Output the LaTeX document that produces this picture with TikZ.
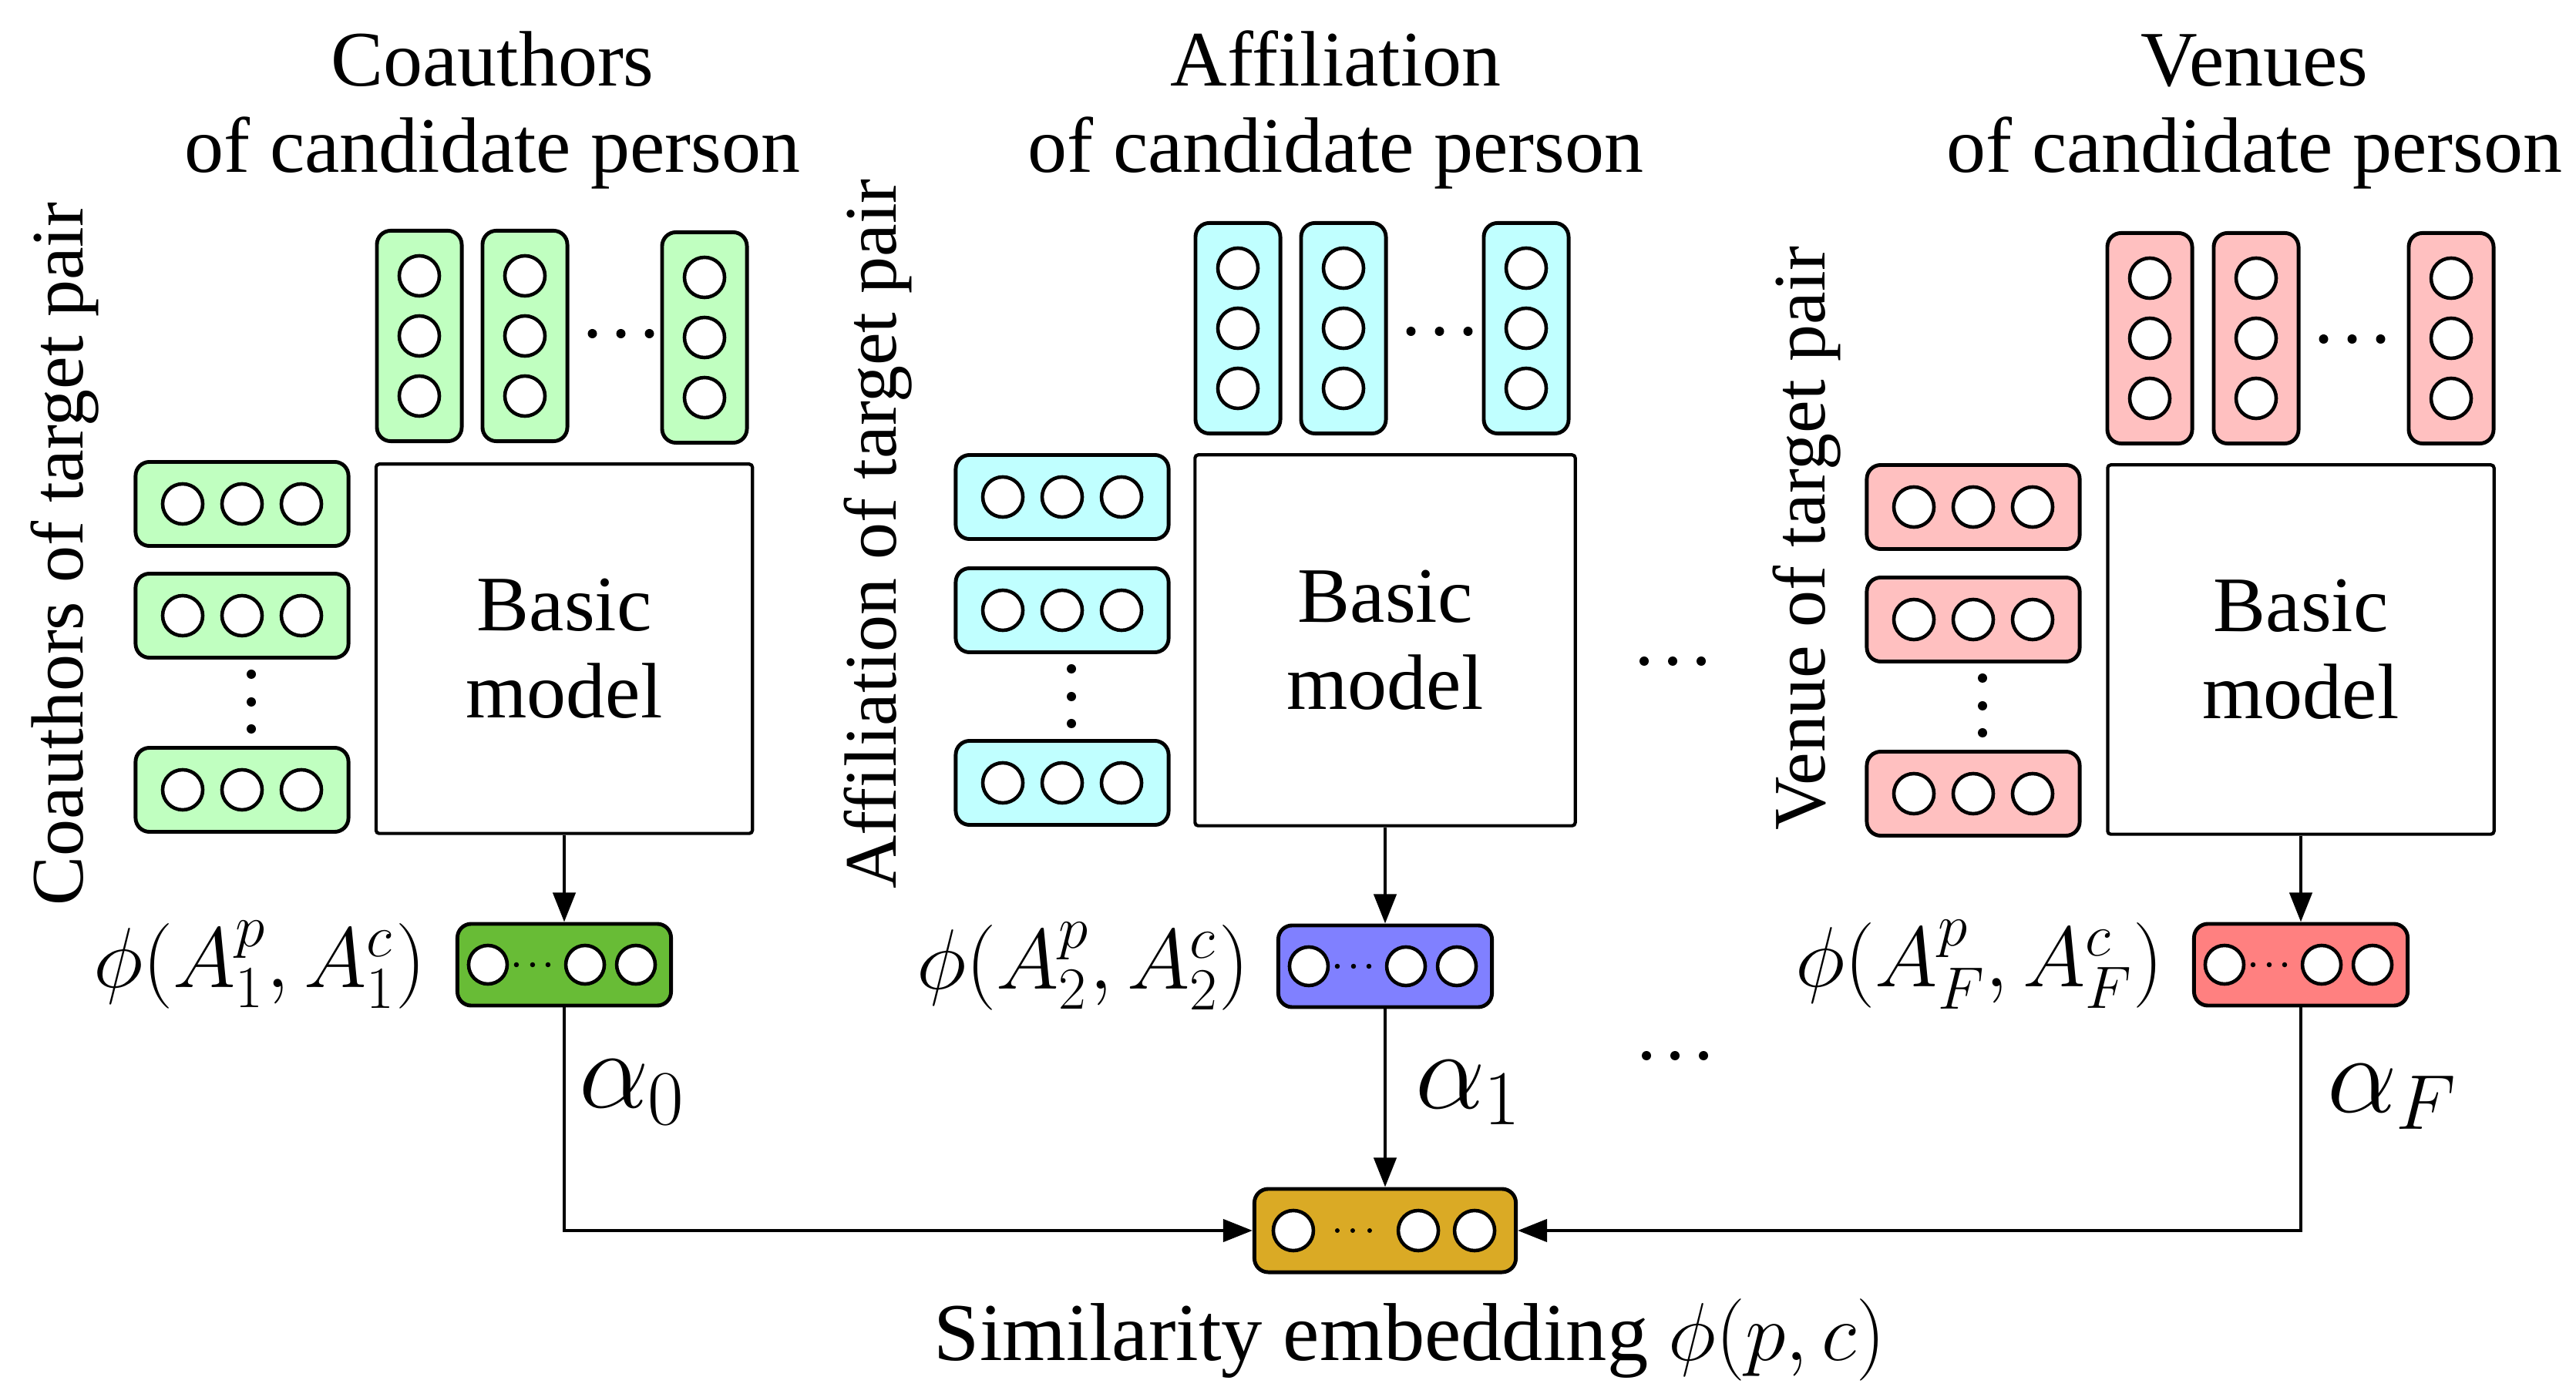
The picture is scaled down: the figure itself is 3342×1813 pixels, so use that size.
\RequirePackage{fix-cm}
\documentclass[tikz,border=0pt]{standalone}
\usepackage{amsmath}
\usepackage[no-math]{fontspec}
\setmainfont{Liberation Serif}
\newfontfamily\labelfont{Liberation Serif}
\usepackage{tikz}
\usetikzlibrary{positioning,calc,arrows.meta}

\definecolor{featgreen}{HTML}{C0FFC0}
\definecolor{featcyan}{HTML}{C0FFFF}
\definecolor{featpink}{HTML}{FFC0C0}
\definecolor{embgreen}{HTML}{68BC36}
\definecolor{embblue}{HTML}{8080FF}
\definecolor{embred}{HTML}{FF8080}
\definecolor{embgold}{HTML}{DAAA25}

\tikzset{
    vecbox/.style={draw,line width=1.4pt,rounded corners=0.18cm,inner sep=0pt},
    unit/.style={circle,draw,fill=white,line width=1.3pt,inner sep=0pt,minimum size=0.52cm},
    bead/.style={circle,fill,inner sep=0pt,minimum size=#1},
    lbl/.style={inner sep=0pt,font=\labelfont\fontsize{29}{32}\selectfont},
    side/.style={inner sep=0pt,rotate=90,anchor=base,font=\labelfont\fontsize{27.3}{30}\selectfont},
    model/.style={lbl,draw,line width=1.2pt,rounded corners=0.04cm,align=center},
    mlabel/.style={inner sep=0pt,font=\fontsize{31.5}{34}\selectfont},
    alabel/.style={inner sep=0pt,font=\fontsize{41}{45}\selectfont},
    arr/.style={line width=1.2pt,-{Triangle[length=0.38cm,width=0.29cm]}},
}

% column vector: name, x, y, colour
\newcommand{\colvec}[4]{%
    \node[vecbox,fill=#4,minimum width=1.1cm,minimum height=2.73cm] (#1) at (#2,#3) {};
    \foreach \dy in {-78,0,78}
        \node[unit] (#1u\dy) at ($(#1)+(0,\dy)$) {};
}
% row vector: name, x, y, colour
\newcommand{\rowvec}[4]{%
    \node[vecbox,fill=#4,minimum width=2.76cm,minimum height=1.09cm] (#1) at (#2,#3) {};
    \foreach \dx in {-77,0,77}
        \node[unit] (#1u\dx) at ($(#1)+(\dx,0)$) {};
}
% output of a basic model: name, x, y, colour
\newcommand{\embvec}[4]{%
    \node[vecbox,fill=#4,minimum width=2.77cm,minimum height=1.06cm] (#1) at (#2,#3) {};
    \node[unit,minimum size=0.5cm] (#1a) at ($(#1.west)+(42,0)$) {};
    \node[unit,minimum size=0.5cm] (#1b) at ($(#1.east)+(-114,0)$) {};
    \node[unit,minimum size=0.5cm] (#1c) at ($(#1.east)+(-48,0)$) {};
    \foreach \dx in {79,100,120}
        \node[bead=0.065cm] (#1d\dx) at ($(#1.west)+(\dx,0)$) {};
}

\begin{document}
\begin{tikzpicture}[x=0.01cm,y=-0.01cm]
    \useasboundingbox (0,0) rectangle (3342,1813);

    % coauthors
    \node[lbl,align=center,anchor=base] (tc) at (639,224) {Coauthors\\of candidate person};
    \node[side] (sc) at (107,719) {Coauthors of target pair};
    \colvec{ct1}{544}{436}{featgreen}
    \colvec{ct2}{681}{436}{featgreen}
    \colvec{ct3}{914}{438}{featgreen}
    \foreach \dx in {30,67,104}
        \node[bead=0.12cm] (ctd\dx) at ($(ct2.east)+(\dx,-3)$) {};
    \rowvec{cl1}{314}{654}{featgreen}
    \rowvec{cl2}{314}{799}{featgreen}
    \rowvec{cl3}{314}{1025}{featgreen}
    \foreach \dy in {19,55,90}
        \node[bead=0.12cm] (cld\dy) at ($(cl2.south)+(12,\dy)$) {};
    \node[model,minimum width=4.88cm,minimum height=4.79cm] (m1) at (732,842) {Basic\\model};
    \embvec{o1}{732}{1252}{embgreen}
    \node[mlabel,left=0.38cm of o1] (p1) {$\phi(A_1^p, A_1^c)$};

    % affiliation
    \node[lbl,align=center,anchor=base] (ta) at (1733,224) {Affiliation\\of candidate person};
    \node[side] (sa) at (1162,693) {Affiliation of target pair};
    \colvec{at1}{1606}{426}{featcyan}
    \colvec{at2}{1743}{426}{featcyan}
    \colvec{at3}{1980}{426}{featcyan}
    \foreach \dx in {30,67,104}
        \node[bead=0.12cm] (atd\dx) at ($(at2.east)+(\dx,4)$) {};
    \rowvec{al1}{1378}{645}{featcyan}
    \rowvec{al2}{1378}{792}{featcyan}
    \rowvec{al3}{1378}{1016}{featcyan}
    \foreach \dy in {19,55,90}
        \node[bead=0.12cm] (ald\dy) at ($(al2.south)+(12,\dy)$) {};
    \node[model,minimum width=4.93cm,minimum height=4.81cm] (m2) at (1797,831) {Basic\\model};
    \embvec{o2}{1797}{1254}{embblue}
    \node[mlabel,left=0.35cm of o2] (p2) {$\phi(A_2^p, A_2^c)$};

    % venues
    \node[lbl,align=center,anchor=base] (tv) at (2925,224) {Venues\\of candidate person};
    \node[side] (sv) at (2367,699) {Venue of target pair};
    \colvec{vt1}{2789}{439}{featpink}
    \colvec{vt2}{2927}{439}{featpink}
    \colvec{vt3}{3180}{439}{featpink}
    \foreach \dx in {30,67,104}
        \node[bead=0.12cm] (vtd\dx) at ($(vt2.east)+(\dx,1)$) {};
    \rowvec{vl1}{2560}{658}{featpink}
    \rowvec{vl2}{2560}{804}{featpink}
    \rowvec{vl3}{2560}{1030}{featpink}
    \foreach \dy in {19,55,90}
        \node[bead=0.12cm] (vld\dy) at ($(vl2.south)+(12,\dy)$) {};
    \node[model,minimum width=5.01cm,minimum height=4.79cm] (m3) at (2985,843) {Basic\\model};
    \embvec{o3}{2985}{1252}{embred}
    \node[mlabel,left=0.37cm of o3] (p3) {$\phi(A_F^p, A_F^c)$};

    % more features
    \foreach \dx in {2133,2170,2207}
        \node[bead=0.12cm] (mu\dx) at (\dx,858) {};
    \foreach \dx in {2136,2173,2210}
        \node[bead=0.12cm] (ml\dx) at (\dx,1370) {};

    % similarity embedding
    \node[vecbox,fill=embgold,minimum width=3.39cm,minimum height=1.08cm] (fin) at (1797,1597) {};
    \node[unit] (fa) at ($(fin.west)+(53,0)$) {};
    \node[unit] (fb) at ($(fin.east)+(-129,0)$) {};
    \node[unit] (fc) at ($(fin.east)+(-56,0)$) {};
    \foreach \dx in {110,130,152}
        \node[bead=0.06cm] (fd\dx) at ($(fin.west)+(\dx,0)$) {};
    \node[lbl,anchor=base,font=\labelfont\fontsize{30.3}{33}\selectfont] (cap) at (1829,1765) {Similarity embedding $\phi(p,c)$};

    \draw[arr] (m1) -- (o1);
    \draw[arr] (m2) -- (o2);
    \draw[arr] (m3) -- (o3);
    \draw[arr] (o1) |- node[alabel,pos=0.19,right=0.17cm] {$\alpha_0$} (fin);
    \draw[arr] (o2) -- node[alabel,pos=0.47,right=0.37cm] {$\alpha_1$} (fin);
    \draw[arr] (o3) |- node[alabel,pos=0.2,right=0.32cm] {$\alpha_F$} (fin);
\end{tikzpicture}
\end{document}
